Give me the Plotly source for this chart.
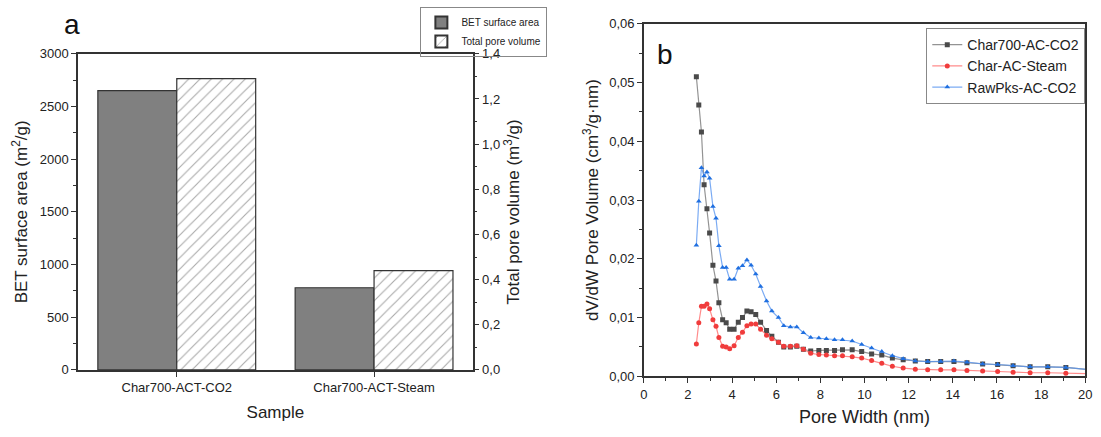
import plotly.graph_objects as go

# ---- panel a data ----
samples = ["Char700-ACT-CO2", "Char700-ACT-Steam"]
bet_area = [2650, 780]
pore_volume = [1.29, 0.44]

# ---- panel b data ----
pore_width = [2.38, 2.49, 2.61, 2.73, 2.86, 2.98, 3.13, 3.27, 3.40, 3.57, 3.73, 3.89,
              4.09, 4.28, 4.47, 4.67, 4.86, 5.07, 5.29, 5.56, 5.80, 6.10, 6.34, 6.64,
              6.93, 7.23, 7.56, 7.93, 8.27, 8.64, 9.00, 9.44, 9.87, 10.32, 10.78, 11.26,
              11.75, 12.30, 12.86, 13.45, 14.05, 14.64, 15.35, 16.03, 16.73, 17.50, 18.30,
              19.12, 20.50]
char700_co2 = [0.0510, 0.0462, 0.0416, 0.0326, 0.0285, 0.0244, 0.0189, 0.0162, 0.0125,
               0.0096, 0.0091, 0.0080, 0.0080, 0.0092, 0.0100, 0.0111, 0.0110, 0.0105,
               0.0092, 0.0078, 0.0068, 0.0058, 0.0050, 0.0050, 0.0051, 0.0046, 0.0043,
               0.0044, 0.0044, 0.0044, 0.0045, 0.0045, 0.0042, 0.0038, 0.0036, 0.0031,
               0.0028, 0.0026, 0.0025, 0.0025, 0.0025, 0.0023, 0.0021, 0.0020, 0.0018,
               0.0016, 0.0016, 0.0015, 0.0010]
char_steam = [0.0055, 0.0091, 0.0119, 0.0119, 0.0123, 0.0115, 0.0096, 0.0085, 0.0066,
              0.0051, 0.0050, 0.0047, 0.0052, 0.0066, 0.0075, 0.0086, 0.0089, 0.0089,
              0.0080, 0.0070, 0.0064, 0.0058, 0.0051, 0.0051, 0.0052, 0.0046, 0.0039,
              0.0037, 0.0036, 0.0035, 0.0035, 0.0033, 0.0031, 0.0027, 0.0022, 0.0017,
              0.0014, 0.0012, 0.0011, 0.0011, 0.0011, 0.0010, 0.0009, 0.0008, 0.0007,
              0.0006, 0.0006, 0.0005, 0.0004]
rawpks_co2 = [0.0223, 0.0298, 0.0355, 0.0341, 0.0348, 0.0337, 0.0289, 0.0269, 0.0222,
              0.0185, 0.0185, 0.0165, 0.0165, 0.0184, 0.0188, 0.0198, 0.0189, 0.0174,
              0.0153, 0.0128, 0.0111, 0.0100, 0.0086, 0.0084, 0.0084, 0.0074, 0.0066,
              0.0065, 0.0064, 0.0062, 0.0062, 0.0060, 0.0054, 0.0048, 0.0042, 0.0035,
              0.0030, 0.0026, 0.0025, 0.0025, 0.0026, 0.0024, 0.0021, 0.0020, 0.0018,
              0.0016, 0.0016, 0.0015, 0.0010]

FONT = "Liberation Sans, Arial, sans-serif"
AX = "#333333"

fig = go.Figure()

fig.add_trace(go.Bar(
    x=samples, y=bet_area, name="BET surface area", offsetgroup="1",
    marker=dict(color="#808080", line=dict(color=AX, width=1.2)),
    xaxis="x", yaxis="y", legend="legend"))
fig.add_trace(go.Bar(
    x=samples, y=pore_volume, name="Total pore volume", offsetgroup="2",
    marker=dict(color="white", line=dict(color=AX, width=1.2),
                pattern=dict(shape="/", fgcolor="#555555", bgcolor="white",
                             size=8, solidity=0.14)),
    xaxis="x", yaxis="y2", legend="legend"))

series = [
    ("Char700-AC-CO2", char700_co2, "rgba(120,120,120,0.8)", "#4a4a4a", "square"),
    ("Char-AC-Steam", char_steam, "rgba(255,110,110,0.8)", "#f03c3c", "circle"),
    ("RawPks-AC-CO2", rawpks_co2, "rgba(90,150,240,0.8)", "#1f6fe0", "triangle-up"),
]
for name, ys, lc, mc, sym in series:
    fig.add_trace(go.Scatter(
        x=pore_width, y=ys, name=name, mode="lines+markers",
        line=dict(color=lc, width=1.2),
        marker=dict(color=mc, symbol=sym, size=5),
        xaxis="x2", yaxis="y3", legend="legend2", cliponaxis=True))

tickfont = dict(family=FONT, size=13, color="#222")
titlefont = dict(family=FONT, size=17, color="#222")

fig.update_layout(
    width=1101, height=437,
    margin=dict(l=0, r=0, t=0, b=0),
    paper_bgcolor="white", plot_bgcolor="white",
    separators=", ",
    barmode="group", bargap=0.2, bargroupgap=0,
    font=dict(family=FONT, color="#222"),
    xaxis=dict(domain=[0.068, 0.43], anchor="y", showline=True, linecolor=AX,
               linewidth=1.5, mirror=True, ticks="outside", ticklen=5,
               tickcolor=AX, tickfont=tickfont,
               title=dict(text="Sample", font=titlefont, standoff=12)),
    yaxis=dict(domain=[0.140, 0.889], anchor="x", range=[0, 3000], dtick=500,
               tickformat="d", showline=True, linecolor=AX, linewidth=1.5,
               ticks="outside", ticklen=5, tickcolor=AX, showgrid=False,
               zeroline=False, tickfont=tickfont,
               minor=dict(ticks="outside", ticklen=3, dtick=250, tickcolor=AX),
               title=dict(text="BET surface area (m<sup>2</sup>/g)", font=titlefont,
                          standoff=8)),
    yaxis2=dict(overlaying="y", side="right", anchor="x", range=[0, 1.4],
                dtick=0.2, tickformat=".1f", showline=True, linecolor=AX,
                linewidth=1.5, ticks="outside", ticklen=5, tickcolor=AX,
                showgrid=False, zeroline=False, tickfont=tickfont,
                minor=dict(ticks="outside", ticklen=3, dtick=0.1, tickcolor=AX),
                title=dict(text="Total pore volume (m<sup>3</sup>/g)", font=titlefont,
                           standoff=8)),
    xaxis2=dict(domain=[0.587, 0.992], anchor="y3", range=[0, 20], dtick=2,
                showline=True, linecolor=AX, linewidth=1.5, mirror=True,
                ticks="outside", ticklen=5, tickcolor=AX, showgrid=False,
                zeroline=False, tickfont=tickfont,
                minor=dict(ticks="outside", ticklen=3, dtick=1, tickcolor=AX),
                title=dict(text="Pore Width (nm)", font=dict(family=FONT, size=18, color="#222"),
                           standoff=10)),
    yaxis3=dict(domain=[0.125, 0.96], anchor="x2", range=[0, 0.06], dtick=0.01,
                tickformat=".2f", showline=True, linecolor=AX, linewidth=1.5,
                mirror=True, ticks="outside", ticklen=5, tickcolor=AX,
                showgrid=False, zeroline=False, tickfont=tickfont,
                minor=dict(ticks="outside", ticklen=3, dtick=0.005, tickcolor=AX),
                title=dict(text="dV/dW Pore Volume (cm<sup>3</sup>/g·nm)",
                           font=titlefont, standoff=6)),
    legend=dict(x=0.382, y=1.0, xanchor="left", yanchor="top",
                bordercolor="#888", borderwidth=1, bgcolor="rgba(255,255,255,0)",
                font=dict(family=FONT, size=10, color="#222"),
                tracegroupgap=0, itemsizing="constant"),
    legend2=dict(x=0.992, y=0.95, xanchor="right", yanchor="top",
                 bordercolor="#888", borderwidth=1, bgcolor="white",
                 font=dict(family=FONT, size=14, color="#222"),
                 tracegroupgap=0),
    annotations=[
        dict(text="a", x=0.062, y=1.0, xref="paper", yref="paper",
             xanchor="center", yanchor="top", showarrow=False,
             font=dict(family=FONT, size=28, color="#111")),
        dict(text="b", x=0.606, y=0.93, xref="paper", yref="paper",
             xanchor="center", yanchor="top", showarrow=False,
             font=dict(family=FONT, size=28, color="#111")),
    ],
)

fig.write_html("out.html")
